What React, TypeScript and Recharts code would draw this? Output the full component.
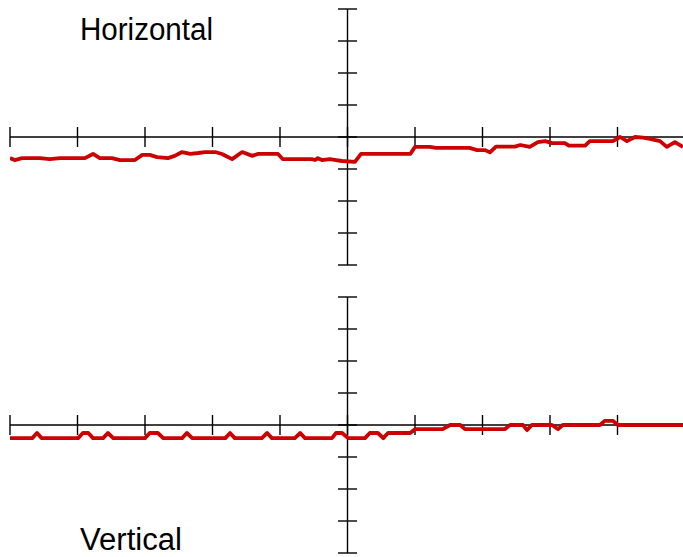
import React from "react";
import { LineChart, Line, XAxis, YAxis, ReferenceLine } from "recharts";

// Horizontal trace (x in divisions, y in divisions)
const horizX = [-5.0, -4.93, -4.82, -4.56, -4.41, -4.26, -3.89, -3.77, -3.67, -3.49, -3.37, -3.15, -3.04, -2.93, -2.82, -2.66, -2.56, -2.45, -2.33, -2.21, -2.11, -1.96, -1.86, -1.71, -1.56, -1.41, -1.33, -1.03, -0.96, -0.53, -0.48, -0.44, -0.38, -0.26, -0.17, -0.08, 0.11, 0.2, 0.93, 1.0, 1.22, 1.31, 1.81, 1.92, 2.04, 2.11, 2.2, 2.48, 2.56, 2.7, 2.82, 2.93, 3.03, 3.22, 3.28, 3.52, 3.59, 3.93, 4.04, 4.14, 4.26, 4.38, 4.48, 4.63, 4.73, 4.85, 4.97];
const horizY = [-0.66, -0.72, -0.66, -0.66, -0.69, -0.66, -0.66, -0.53, -0.66, -0.66, -0.72, -0.72, -0.56, -0.56, -0.63, -0.66, -0.59, -0.47, -0.53, -0.5, -0.47, -0.47, -0.53, -0.69, -0.47, -0.59, -0.53, -0.53, -0.69, -0.69, -0.72, -0.66, -0.72, -0.69, -0.72, -0.75, -0.78, -0.53, -0.53, -0.31, -0.31, -0.34, -0.34, -0.41, -0.41, -0.48, -0.3, -0.3, -0.25, -0.31, -0.16, -0.13, -0.19, -0.19, -0.27, -0.27, -0.13, -0.13, 0, -0.13, 0, -0.02, -0.06, -0.13, -0.31, -0.16, -0.31];

// Vertical trace
const vertX = [-5.0, -4.67, -4.6, -4.53, -3.99, -3.92, -3.84, -3.77, -3.62, -3.55, -3.47, -3.0, -2.93, -2.81, -2.73, -2.45, -2.38, -2.3, -1.81, -1.74, -1.67, -1.27, -1.19, -1.12, -0.78, -0.7, -0.63, -0.23, -0.17, -0.08, 0.01, 0.26, 0.33, 0.45, 0.53, 0.6, 0.93, 1.0, 1.41, 1.52, 1.67, 1.74, 2.33, 2.41, 2.6, 2.66, 2.73, 3.03, 3.12, 3.19, 3.74, 3.81, 3.93, 4.01, 4.97];
const vertY = [-0.41, -0.41, -0.25, -0.41, -0.41, -0.25, -0.25, -0.41, -0.41, -0.25, -0.41, -0.41, -0.25, -0.25, -0.41, -0.41, -0.25, -0.41, -0.41, -0.25, -0.41, -0.41, -0.25, -0.41, -0.41, -0.25, -0.41, -0.41, -0.25, -0.25, -0.41, -0.41, -0.25, -0.25, -0.41, -0.25, -0.25, -0.13, -0.13, 0, 0, -0.13, -0.13, 0, 0, -0.16, 0, 0, -0.13, 0, 0, 0.13, 0.13, 0, 0];

const xTicks = [-5, -4, -3, -2, -1, 0, 1, 2, 3, 4, 5];
const yTicks = [-4, -3, -2, -1, 0, 1, 2, 3, 4];
const titles = ["Horizontal", "Vertical"];

const horizData = horizX.map((x, i) => ({ x, y: horizY[i] }));
const vertData = vertX.map((x, i) => ({ x, y: vertY[i] }));

const W = 695;
const H = 280;
const margin = { top: 9, left: 10, right: 10, bottom: 15 };
const plotW = W - margin.left - margin.right; // 675
const plotH = H - margin.top - margin.bottom; // 256
const pxPerX = plotW / 10;
const pxPerY = plotH / 8;
const hTickHalf = 10 / pxPerY;
const vTickHalf = 9.5 / pxPerX;
const AX = "#000";
const AXW = 1.4;

function Panel({ data }: { data: { x: number; y: number }[] }) {
  return (
    <LineChart width={W} height={H} data={data} margin={margin}>
      <XAxis type="number" dataKey="x" domain={[-5, 5]} hide allowDataOverflow />
      <YAxis type="number" domain={[-4, 4]} hide allowDataOverflow />
      <ReferenceLine y={0} stroke={AX} strokeWidth={AXW} ifOverflow="visible" />
      <ReferenceLine x={0} stroke={AX} strokeWidth={AXW} ifOverflow="visible" />
      {xTicks.map((t) => (
        <ReferenceLine
          key={"xt" + t}
          segment={[
            { x: t, y: -hTickHalf },
            { x: t, y: hTickHalf },
          ]}
          stroke={AX}
          strokeWidth={AXW}
          ifOverflow="visible"
        />
      ))}
      {yTicks.map((t) => (
        <ReferenceLine
          key={"yt" + t}
          segment={[
            { x: -vTickHalf, y: t },
            { x: vTickHalf, y: t },
          ]}
          stroke={AX}
          strokeWidth={AXW}
          ifOverflow="visible"
        />
      ))}
      <Line
        type="linear"
        dataKey="y"
        stroke="#cc0000"
        strokeWidth={3.8}
        dot={false}
        isAnimationActive={false}
        strokeLinejoin="round"
      />
    </LineChart>
  );
}

export default function App() {
  return (
    <div
      style={{
        position: "fixed",
        left: 0,
        top: 0,
        width: 683,
        height: 557,
        overflow: "hidden",
        background: "#fff",
      }}
    >
      <div style={{ position: "absolute", left: 0, top: 0 }}>
        <Panel data={horizData} />
      </div>
      <div style={{ position: "absolute", left: 0, top: 288 }}>
        <Panel data={vertData} />
      </div>
      <svg
        width={683}
        height={557}
        style={{ position: "absolute", left: 0, top: 0, pointerEvents: "none" }}
      >
        <text x={80} y={40} fontFamily="Liberation Sans, Arial, sans-serif" fontSize={31} fill="#000" textLength={133} lengthAdjust="spacingAndGlyphs">
          {titles[0]}
        </text>
        <text x={80} y={550} fontFamily="Liberation Sans, Arial, sans-serif" fontSize={31} fill="#000" textLength={102} lengthAdjust="spacingAndGlyphs">
          {titles[1]}
        </text>
      </svg>
    </div>
  );
}
